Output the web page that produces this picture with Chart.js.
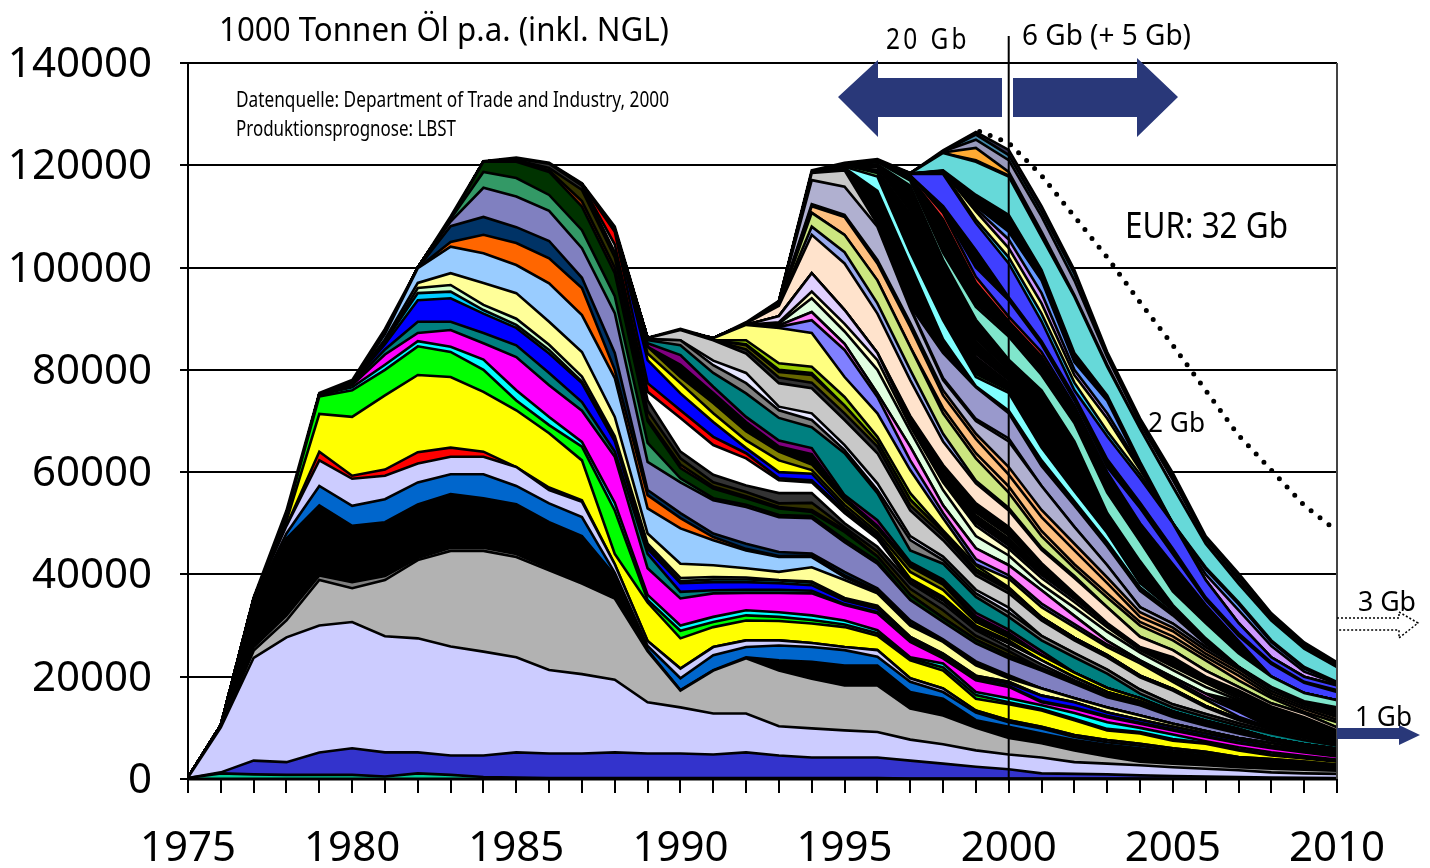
<!DOCTYPE html>
<html><head><meta charset="utf-8">
<style>html,body{margin:0;padding:0;background:#fff}#w{position:relative;width:1430px;height:868px}</style>
<script src="https://cdn.jsdelivr.net/npm/chart.js@4"></script>
</head><body><div id="w"><canvas id="c" width="1430" height="868"></canvas></div>
<script>
// Top edge of each field band, in million tonnes p.a.. Each list starts at the given year.
const fA=[.2,1.1,.9,.8,.8,.8,.5,1.1,.8,.4,.3,.2,.2,.2,.2,.2,.2,.2,.2,.2,.2,.2,.1,.1,.1,.1,.1,.1,.1,.1,.1,.1,.1,.1,.1,.1];
const fB=[.2,1.3,3.6,3.3,5.2,6,5.2,5.2,4.6,4.6,5.2,5,5,5.2,5,5,4.8,5.2,4.6,4.2,4.2,4.2,3.6,3,2.4,1.9,1.1,1,.9,.7,.6,.5,.4,.3,.25,.2];
const fC=[.3,10.1,23.7,27.7,30,30.7,27.9,27.5,25.9,24.9,23.8,21.3,20.5,19.4,15,14,12.8,12.8,10.3,9.9,9.5,9.2,7.7,6.8,5.6,4.8,4.2,3.3,3,2.7,2.3,2,1.7,1.3,1.1,1];
const fD=[.3,10.2,25.1,31,38.9,37.3,38.9,42.8,44.6,44.6,43.4,40.8,38.2,35.3,25,17.3,21.2,23.6,21.2,19.6,18.3,18.3,13.8,12.4,10,8,7,5.6,4.4,3.4,3,2.7,2.3,2,1.8,1.6];
const fE=[.3,10.3,25.8,32,39.8,38.5,39.7,43.2,45.2,45.2,44,41.2,38.5,35.4];
const fF=[.3,10.4,34.6,47,53.5,49.5,50.2,53.7,55.7,54.9,53.7,50.2,47.5,39.8,25.2,17.4,21.3,23.8,23.2,22.9,22.2,22.2,17,15.7,11.5,10.2,8.9,7.6,6.7,6,5.2,4.6,3.7,3.3,2.9,2.3];
const fG=[34.8,48,57.3,53.4,54.7,58,59.6,59.6,57.3,53.9,51.2,40.3,26,19.7,24.2,25.8,26.1,25.8,25.2,23.9,19,17,13,11.1,9.9,8.2,7.2,6.5,5.6,5,4,3.6,3.2,2.6];
const fH=[35,49.5,62.3,58.7,59.3,61.7,63,63,61,56.5,54.2,42,27,21.6,25.8,27.1,27.1,26.6,25.8,25.2,19.7,17.7,13.4,11.5,10.2,8.6,7.6,6.9,6,5.3,4.3,3.9,3.4,2.8];
const fI=[64,59.3,60.5,63.9,64.8,64,61,57,54.5];
const fJ=[10.5,35.1,50.5,71.4,70.8,75,79,78.6,75.7,72.1,67.6,62.3,44,34.5,27.5,29.7,31,30.9,30.4,29.7,28,23.2,21.2,15.7,14.6,13.4,11.5,9.5,8.9,7.5,6.9,5.6,4.6,4,3.4];
const fK=[35.2,51.5,74.8,76,80,84.6,83.5,80,74,69.2,65,52.5,35,29,30.7,32,31.7,31.1,30.2,28.5,23.6,21.8,16.4,15,13.7,11.8,9.8,9.2,7.8,7.1,5.8,4.8,4.2,3.6];
const fL=[75.1,76.6,81,85.6,84.5,82,76,70.8,65.9,54,36,30,31.7,33,32.6,32,31,29.1,23.8,22.6,17,15.8,14.4,12.9,11.1,10,8.7,7.4,6.2,5.2,4.5,3.8];
const fM=[75.2,77,83,87.2,87.8,85.2,82.5,77,72,63,41.2,35.3,36.3,36.4,36.4,36.3,34,32.4,26.8,23.6,19.3,18,15,13.8,12.1,10.8,9.5,8.2,7,6,5.2,4.4];
const fN=[77.2,84,89.4,89.4,87.2,84.8,79.4,73.7,64,44,36.6,36.9,37,37,36.8,34.2,32.6,27,23.8,19.5,18.2,15.2,14,12.3,11,9.7,8.4,7.1,6.1,5.3,4.5];
const fO=[77.5,85,93.6,94,91,88.2,83.2,77.4,66,45,38.3,38.5,38.5,38.3,37.9,34.9,33.3,27.5,24.2,19.9,18.7,16.3,15,13,11.6,10.2,8.9,7.6,6.5,5.7,4.7];
const fP=[85.5,95,95.3,91.7,88.8,83.9,77.7,66.4,45.5,38.7,39,39,38.8,38.4,35.2,33.7,27.8,24.5,20.2,19];
const fQ=[96,96.6,92.7,90,84.9,78.7,67,46,39.3,39.5,39.4,38.9,38.6,35.4,33.9];
const fR=[86,97,98.9,97,95,89.4,83.5,70.8,48,42.1,41.8,41.2,40.5,41.4,38.9,36.3,30,26.8,22.2,19.7,17.7,15.8,14,12.4,10.8,9.4,8,7,6,5];
const fS=[87,99.9,104.1,102.8,100.5,96.9,90.7,78.4,52.9,49,46.7,44.7,43.4,43.4,39.5,36.6,30.4,27,22.6,20];
const fT=[105,106.4,104.8,101.8,96,80,55.5,51,47.3,45,43.6,43.7,39.8,36.8];
const fU=[108.1,109.9,107.9,105.2,98,83.3,56.5,52,48,46,44.4,44.1,40.5,37.3,31,27.3,23,20.3];
const fV=[100,109,115.6,113.9,111.1,103.8,91.1,62,58,54.5,53.2,51.2,51,46.3,42.1,35,30.7,26.5,23.6,21.2,18.6,16,14.4,12.1,10.4,8.9,7.5,6.4,5.5];
const fW=[109.5,118.7,117.5,114.2,107.3,94.4,65.7,58.8,54.9,53.6,51.6,51.4,46.8,42.6];
const fX=[120.7,120.7,118.7,111.9,98.9,70,60.8,56.8,54.9,52.9,52.2,48.3,43.5,36,31.5,27.2,24.2,21.6,19,16.3,14.6,12.3,10.6,9.1,7.7,6.6,5.7];
const fY=[121,119,113,100,70.5,61.5,57.2,55.3,53.2,52.6,48.7];
const fZ=[119.5,115.2,102,72,62.7,58,56.1,53.9,54,49.2,44.5,37.2,33,28,25];
const fAA=[121.3,120.3,116,103,74,64,59.5,57.4,55.9,55.9,50,45.4,38.3,34.3,29.1,25.8,22.4,19.3,16.6,14.9,12.5,10.8,9.3,7.9,6.8,5.9];
const fAB=[116.2,104.5,75.7,70.6,65.3,62.7,58.4,58,52,47,38.5,34.9,29.4,26.5,23.2,19.9,17,15.2,12.8,11,9.5];
const fAC=[116.3,107,77.4,72.1,66.9,63.7,58.8,58.4,52.5,47.4,39,35.3,29.8,26.9];
const fAD=[107.5,81.9,75.4,69.8,64.7,60,59.7,53,47.7,39.2,35.6,30,27.1];
const fAE=[83.2,77.4,71.5,66.2,62.3,60.4,53.6,48.2,40.5,37,30.7,27.7,24.2,20.8,17.8,15.8,13.2,11.4,9.8];
const fAF=[84.5,78.6,73.5,68,64,61.5,54.5,49,41.5,38,31.2];
const fAG=[79,74,68.4,64.4,61.9];
const fAH=[81,75.5,69.8,65,63.5,55,49.5,42,38.5,31.8,28.5];
const fAI=[85.2,82.9,76.7,70.8,66.2,64.7,55.5,50.6,42.4,39,32.5,29.2,25];
const fAJ=[85.8,84.8,79.4,75.4,70.6,68.8,63.7,55.9,44.7,42.1,35.6,31.7,27.1,23.8,20.6,16.7,14,12.1,10.4,8.9,7.6,6.5];
const fAK=[86,85.8,80.9,77.4,72.1,70.2,64.3,56.5,46.7,42.8,36.3,32.6,28,24.6,21.4,17.5,14.6,12.7,10.9,9.3,8,6.8];
const fAL=[81.8,79.4,72.8,71.5,65.3,57.8,47.5,43.5,37,33.5];
const fAM=[86.2,87.8,85.8,83.2,77.4,76.4,70.2,63.7,52.5,46.7,39.8,36.3,31,27.1,23.8,19.9,17.3,14,11.5,9.7,8.3,7.1];
const fAN=[84,78.5,77.5,71.5,65,53.5,47.6,40.5,37,31.6,27.6,24.2,20.2,17.6,14.3,11.8];
const fAO=[84.8,79.6,79,73,65.9,54.6,48.2,41,37.3];
const fAP=[85,80,79.4];
const fAQ=[85.8,81.3,80.6,74.7,66.9,55.9,48.6,41.8,37.5];
const fAR=[86.2,88.8,88.2,87.2,78.6,71.5,60.4,51,42,39.2,33.6,29.7,25.8,22.6,19,15.5,12.2,10,8.6,7.2];
const fAS=[88.4,89.7,83.9,74.7,62.3,52,43,39.8,34.3,30.3,26.3,23.1,19.5,16,13.2];
const fAT=[88.7,91.3,85.1,75.4,65,53.5,45.1,41.8,36.9,31.9,27,23.2,19.9,16.7,13.4,10.4];
const fTailDark=[15.2,13.4,11.8,9.2];
const fAU=[89,94,87.5,80,68,56.5,47.5,43.7,38,33.5,28.8,24.7,21.3,18,15.4,13.6];
const fAV=[89.3,95.3,89,81.9,69,58,49.5,45,39.3,34.6,29.7,25.2,22,18.8,15.8,13.8];
const fAW=[90.5,98.9,91.7,83.3,69.7,58.6,50.1,45.6,39.9,35.2,30.2,25.5,22.4,19.2,16.2,14];
const fAW2=[70.2,59.8,51.5,47,41,35.8,30,25.6];
const fAW3=[70.7,60.4,52.1,47.6,41.5,36.1,30.3,25.7];
const fAW4=[71,61.4,53.9,49.3,42.2,36.3,30.5,25.8,23.8,20,17.3,14.2,12.1,9.5];
const fAX=[89.1,92.5,106.4,100.8,91,78,66,57.8,52.5,44.8,39.3,33.6,27.8,25.2,21.2,18,14.8,12.8,10.1];
const fAY=[92.6,108,103,93,80,67.5,58.3,53,45.2,39.7];
const fAZ=[92.7,110.7,106.4,97.5,84.5,71.5,62.7,56,47.5,41.2,35.5,30,27.1,23.2,19.3,15.8,13.1,11.1];
const fBA0=[72.5,63.7,57.2,48.5,42,36.3,30.7,27.9,23.9,20.2,16.2,13.7,11.6];
const fBA=[93,112,109.9,100.8,88.4,75,66.5,59.5,51.2,44.7,38.3,31.7,28.9,24.5,20.9,16.7,14.1,12.1];
const fBB=[112.4,110.3,101.5,89.2,76,67.5,61,52.6,46,39.4,32.6,29.6,25.2,21.5,17.2,14.5,12.4];
const fBC=[93.2,117.1,115.8,108,92,78,70,66,57.3,49.3,41.8,33.6,30.4,25.8,21.9,17.7,14.8,12.8];
const fBD=[93.3,118.5,119,108.5,92.2,78.4,70.4,66.6];
const fBE=[119.3,109,92.5,83.3,76.6,71.5,61.2,53.5,45.5,36.8,32,26.4,21.2,17.6,14.7,12.9];
const fBF=[119.5,115,100.5,86,76.8,72,62.3,54.3,46.3,37.5,32.5,26.8,21.3];
const fBG=[119.7,117.8,103,89.7,78.6,75.5,64.8,56.3,48.1,38.3,33,26.9,21.4,17.7];
const fBH=[120,118.5,103.6,90.3,79.2,76,65.4,56.9,48.6,38.8];
const fBH2=[118.7,107,93.5,82.5,77.5,66.8,58,49.5,40];
const fBI=[119,107.6,94.1,83.1,78,67.3,58.5,49.9,40.4];
const fBI2=[110.5,97,85.5,79.5,69,60,50.5,41.2];
const fBJ=[119.6,111.1,97.6,86.1,80,69.5,60.4,50.9,41.6];
const fBK=[120.2,116,101.5,89.8,82,76,66,52,42.6,34,27.5,22,18,15.2,14];
const fBL=[120.6,117,102.9,92.3,86.5,79,69.6,56,46.5,36.7,30.5,24.6,20,16.8,15.4];
const fBM=[117.2,103.5,92.9,87,79.6,70.2,56.6,47];
const fBM2=[106,94.5,88,80.5,71,57.5,47.8];
const fBN=[106.6,95,88.4,81,71.4,57.9,48.2];
const fBO=[117.6,109.4,97,89.5,82.6,72.4,59.4,49.4,41.4,33.4,26.6];
const fBP=[120.8,118,110.7,98.2,90.4,83.5,73,60,50,42,34,27];
const fBQ=[111,100,93.6,85,74,61,53,44,35,28,22.5,18.8,17];
const fBR=[112,103.4,94.2,85.6,74.8,62.5,54,45,35.5,28.5,22.8,19,17.4];
const fBS=[118.3,118.3,108.7,100.8,89.5,76,67,58.8,50,38.9,30.5,23.8,20,18.3];
const fBT=[118.4,118.6,109.4,102,91,77.5,68,59.6];
const fBU=[118.8,111,103.8,93,79,70.5,60.5];
const fBV=[118.85,111.5,105.5,95,80,71.5,61,48,40,33,26,21,18.6];
const fBW=[118.9,112,107,97.5,81.5,74,61.2,48.7,41,34.2,26.8,21.6,18.8];
const fBX=[119,114.2,110.3,99.5,83.3,75,62,49.3,41.4,34.6,27.1,21.9,19];
const fBY=[118.45,122.4,120.7,117.8,106,94.3,80.6,68.5,57.1,46,38.2,31,25.5,21.9];
const fBZ=[121,118,106.3];
const fCA=[122.5,123.4,118.7,107,94.6,81];
const fCB=[122.7,125,121,110,97.5,82.5,69.5,58.5,46.8,39,31.6,26,22.3];
const fCC=[126,122,111,98.8,83,70,59,47,39.5,32,26.4,22.6];
const fTotal=[.3,10.5,35.5,52.5,75.5,78,88,100,110,120.8,121.5,120.5,116.5,108,86.3,88,86,89.3,93.5,119,120.5,121.2,118.5,122.9,126.5,123,112,99.5,83.5,70.5,59.8,47.5,40.2,32.4,26.7,22.8];
// Dotted envelope of the forecast, from 1999
const forecast=[126.9,124.4,118,110,102,93.2,84.8,76,67.2,60.4,53.5,48.5];

const years=[1975,1976,1977,1978,1979,1980,1981,1982,1983,1984,1985,1986,1987,1988,1989,1990,1991,1992,1993,1994,1995,1996,1997,1998,1999,2000,2001,2002,2003,2004,2005,2006,2007,2008,2009,2010];

const bands=[
[fA,1975,'#00cc99'],[fB,1975,'#3333cc'],[fC,1975,'#ccccff'],[fD,1975,'#b2b2b2'],[fE,1975,'#808080'],[fF,1975,'#000000'],
[fG,1977,'#0066cc'],[fH,1977,'#ccccff'],[fI,1979,'#ff0000'],[fJ,1976,'#ffff00'],[fK,1977,'#00ff00'],[fL,1979,'#00ffff'],
[fM,1979,'#ff00ff'],[fN,1980,'#008080'],[fO,1980,'#0000ff'],[fP,1981,'#00ccff'],[fQ,1982,'#ccffcc'],[fR,1981,'#ffff99'],
[fS,1981,'#99ccff'],[fT,1983,'#ff6600'],[fU,1983,'#003366'],[fV,1982,'#8080c0'],[fW,1983,'#339966'],[fX,1984,'#003300'],
[fY,1985,'#993300'],[fZ,1986,'#333300'],[fAA,1985,'#333333'],[fAB,1987,'#ffffff'],[fAC,1987,'#ff0000'],[fAD,1988,'#0000ff'],
[fAE,1989,'#ffff00'],[fAF,1989,'#808000'],[fAG,1990,'#00ffff'],[fAH,1990,'#000000'],[fAI,1989,'#800080'],[fAJ,1989,'#008080'],
[fAK,1989,'#808080'],[fAL,1991,'#e6e6ff'],[fAM,1989,'#c8c8c8'],[fAN,1992,'#333333'],[fAO,1992,'#666600'],[fAP,1992,'#3366ff'],
[fAQ,1992,'#99cc00'],[fAR,1991,'#ffff80'],[fAS,1993,'#8080ff'],[fAT,1993,'#ff80ff'],[fTailDark,2007,'#000000'],[fAU,1993,'#e0ffe0'],[fAV,1993,'#ffffcc'],
[fAW,1993,'#e0d0ff'],[fAW2,1997,'#000000'],[fAW3,1997,'#ffffcc'],[fAW4,1997,'#000000'],
[fAX,1992,'#ffe3cc'],[fAY,1993,'#99aaee'],[fAZ,1993,'#cce680'],[fBA0,1998,'#ffc080'],[fBA,1993,'#ffc080'],[fBB,1994,'#ffb070'],
[fBC,1993,'#b0b0d0'],[fBD,1993,'#c8c8c8'],[fBE,1995,'#9999cc'],[fBF,1995,'#000000'],[fBG,1995,'#80ffff'],[fBH,1995,'#66cc66'],[fBH2,1996,'#000000'],
[fBI,1996,'#cc99cc'],[fBI2,1997,'#000000'],[fBJ,1996,'#a0a0a0'],[fBK,1996,'#000000'],[fBL,1996,'#80e6cc'],[fBM,1997,'#669999'],[fBM2,1998,'#000000'],[fBN,1998,'#cc9999'],
[fBO,1997,'#000000'],[fBP,1996,'#ff3333'],[fBQ,1998,'#3f3fff'],[fBR,1998,'#000000'],[fBS,1997,'#3f3fff'],[fBT,1997,'#33ccff'],
[fBU,1998,'#ffff99'],[fBV,1998,'#cc99ff'],[fBW,1998,'#6699ff'],[fBX,1998,'#000000'],[fBY,1997,'#66d9d9'],[fBZ,1999,'#99cc33'],
[fCA,1998,'#ffaa33'],[fCB,1998,'#9999bb'],[fCC,1999,'#4488aa'],[fTotal,1975,'#333355']
];

const datasets=[];
let below=years.map(()=>0);
bands.forEach(([vals,start,col])=>{
  const tops=years.map((y,i)=>{
    const v=(y>=start && y-start<vals.length)?vals[y-start]:0;
    return Math.max(below[i],v);
  });
  below=tops;
  datasets.push({data:tops.map((t,i)=>({x:years[i],y:t*1000})),borderColor:'#000',borderWidth:2.6,backgroundColor:col,
    fill:datasets.length?'-1':'origin',pointRadius:0,tension:0,borderJoinStyle:'miter'});
});
datasets.push({data:forecast.map((t,i)=>({x:1999+i,y:t*1000})),borderColor:'#000',borderWidth:5,borderDash:[0,11.3],borderDashOffset:-4,borderCapStyle:'round',
  fill:false,pointRadius:0,tension:0,order:-1,clip:false});

const NAVY='#293879';
const FONT='"Noto Sans"';
function fit(ctx,s,x,base,w,size,sp){
  ctx.save();ctx.font=size+'px '+FONT;ctx.fillStyle='#000';ctx.textAlign='left';ctx.textBaseline='alphabetic';
  if(sp)ctx.letterSpacing=sp+'px';
  const m=ctx.measureText(s).width;ctx.translate(x,base);ctx.scale(w/m,1);ctx.fillText(s,0,0);ctx.restore();
}
function poly(ctx,p){ctx.beginPath();p.forEach((q,i)=>i?ctx.lineTo(q[0],q[1]):ctx.moveTo(q[0],q[1]));ctx.closePath();}
const overlay={id:'overlay',afterDatasetsDraw(ch){
  const ctx=ch.ctx,a=ch.chartArea,xs=ch.scales.x;
  ctx.save();
  ctx.strokeStyle='#000';ctx.lineWidth=3;ctx.beginPath();ctx.moveTo(a.left-1,a.bottom);ctx.lineTo(a.right,a.bottom);ctx.stroke();
  ctx.strokeStyle='#444';ctx.lineWidth=2;ctx.beginPath();ctx.moveTo(a.right,a.top);ctx.lineTo(a.right,a.bottom);ctx.stroke();
  const vx=xs.getPixelForValue(2000);
  ctx.strokeStyle='#000';ctx.lineWidth=2;ctx.beginPath();ctx.moveTo(vx,36);ctx.lineTo(vx,a.bottom);ctx.stroke();
  ctx.fillStyle=NAVY;
  poly(ctx,[[838,97],[878,60],[878,78],[1002,78],[1002,117],[878,117],[878,137]]);ctx.fill();
  poly(ctx,[[1013,78],[1137,78],[1137,58],[1178,97],[1137,137],[1137,117],[1013,117]]);ctx.fill();
  poly(ctx,[[1337,728],[1399,728],[1399,725],[1420,735],[1399,745],[1399,739],[1337,739]]);ctx.fill();
  ctx.strokeStyle='#000';ctx.lineWidth=1.5;ctx.setLineDash([2,2]);
  ctx.beginPath();ctx.moveTo(1337,618);ctx.lineTo(1399,618);ctx.lineTo(1399,612);ctx.lineTo(1418,623);ctx.lineTo(1399,638);ctx.lineTo(1399,630);ctx.lineTo(1337,630);ctx.stroke();
  ctx.setLineDash([]);
  fit(ctx,'1000 Tonnen Öl p.a. (inkl. NGL)',219,41,450,33);
  fit(ctx,'Datenquelle: Department of Trade and Industry, 2000',236,107,433,21);
  fit(ctx,'Produktionsprognose: LBST',236,136,220,21);
  fit(ctx,'20 Gb',886,49,84,29,4);
  fit(ctx,'6 Gb (+ 5 Gb)',1022,45,169,29);
  fit(ctx,'EUR: 32 Gb',1125,238,163,36);
  fit(ctx,'2 Gb',1148,432,57,28);
  fit(ctx,'3 Gb',1358,611,58,28);
  fit(ctx,'1 Gb',1355,726,57,28);
  ctx.restore();
}};

new Chart(document.getElementById('c'),{
  type:'line',
  data:{datasets},
  plugins:[overlay],
  options:{responsive:false,animation:false,
    layout:{padding:{top:63,right:93,left:0,bottom:0}},
    plugins:{legend:{display:false},tooltip:{enabled:false},title:{display:false}},
    scales:{
      x:{type:'linear',min:1975,max:2010,
        afterFit(s){s.height=89;},
        grid:{drawOnChartArea:false,drawTicks:true,tickLength:14,color:'#000',lineWidth:2},
        border:{display:true,color:'#000',width:2},
        ticks:{stepSize:1,autoSkip:false,maxRotation:0,padding:31,color:'#000',font:{family:FONT,size:42},
          callback:v=>v%5===0?String(v):''}},
      y:{type:'linear',min:0,max:140000,
        afterFit(s){s.width=188;},
        grid:{drawOnChartArea:true,drawTicks:true,tickLength:8,color:'#000',lineWidth:2},
        border:{display:true,color:'#000',width:2},
        ticks:{stepSize:20000,padding:28,labelOffset:2,color:'#000',font:{family:FONT,size:42},callback:v=>String(v)}}
    }}
});
</script></body></html>
